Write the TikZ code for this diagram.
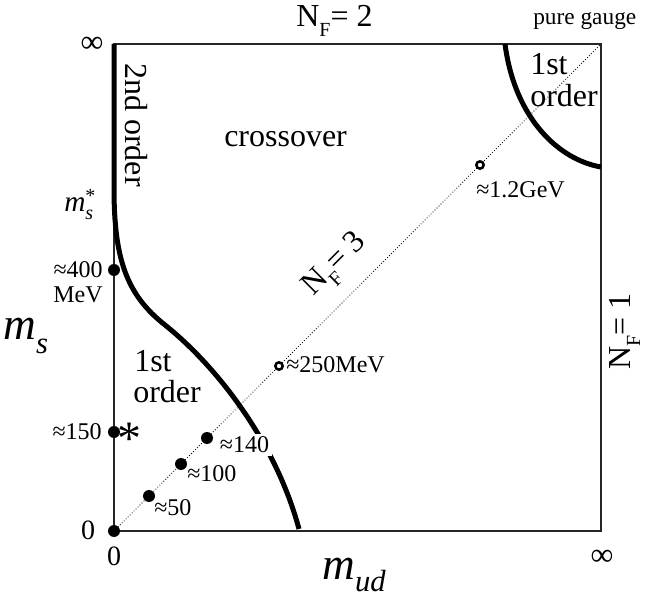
\documentclass[tikz,border=0pt]{standalone}
\usepackage{fontspec}
\setmainfont{Liberation Serif}
\newcommand{\myNF}[1]{N\raisebox{-7.5pt}{\fontsize{15}{15}\selectfont F}= #1}
\begin{document}
\begin{tikzpicture}[x=0.75pt,y=-0.75pt,
  frameline/.style={line width=1pt, draw=black!85},
  thickcurve/.style={line width=3.75pt},
  diagline/.style={line width=0.6pt, dash pattern=on 0.6pt off 1.5pt},
  fdot/.style={circle, fill=black, inner sep=0pt, minimum size=9pt},
  odot/.style={circle, draw=black, fill=white, line width=1.9pt, inner sep=0pt, minimum size=5.5pt},
  lbig/.style={inner sep=0pt, font=\fontsize{24}{30}\selectfont},
  lsmall/.style={inner sep=0pt, font=\fontsize{18}{22}\selectfont},
  lmid/.style={inner sep=0pt, font=\fontsize{21}{25}\selectfont},
  laxis/.style={inner sep=0pt, font=\fontsize{34}{40}\selectfont\itshape},
]
\useasboundingbox (0,0) rectangle (654,602);
\coordinate (BL) at (114,531);
\coordinate (BR) at (601,531);
\coordinate (TR) at (601,44);
\coordinate (TL) at (114,44);
\draw[frameline] (BL) rectangle (TR);
\draw[diagline] (BL) -- (TR);
\draw[thickcurve] (TL) -- (114,188) .. controls (114,260) and (127,295) .. (165,325) .. controls (215,365) and (275,440) .. (299,529);
\draw[thickcurve] (505,44) .. controls (515,120) and (560,160) .. (601,167);
% dots
\node[fdot] (p0) at (BL) {};
\node[fdot] (p50) at (149,496) {};
\node[fdot] (p100) at (181,464) {};
\node[fdot] (p140) at (207,438) {};
\node[fdot] (p400) at (114,270) {};
\node[fdot] (p150) at (114,432) {};
\node[odot] (p250) at (279,366) {};
\node[odot] (p1200) at (480,165) {};
% labels
\node[lbig, anchor=base west] (nf2) at (296,27) {\myNF{2}};
\node[inner sep=0pt, font=\fontsize{17.5}{20}\selectfont, anchor=base west] (pg) at (533,25) {pure gauge};
\node[lbig] (inftop) at (92,45) {∞};
\node[lbig] (infright) at (602,558) {∞};
\node[lmid] (zeroleft) at (88,530) {0};
\node[lmid] (zerobot) at (114,556) {0};
\node[laxis, anchor=base west] (ms) at (3,340) {m\raisebox{-10pt}{\fontsize{23}{23}\selectfont s}};
\node[laxis, anchor=base west] (mud) at (322,580) {m\raisebox{-9pt}{\fontsize{23}{23}\selectfont ud}};
\node[inner sep=0pt, font=\fontsize{22}{26}\selectfont\itshape, anchor=base west] (msstar) at (64,212) {m\rlap{\raisebox{7pt}{\fontsize{15}{15}\selectfont\upshape *}}\raisebox{-6pt}{\fontsize{15}{15}\selectfont s}};
\node[lbig, rotate=-90, anchor=base west] (second) at (125,63) {2nd order};
\node[lbig, anchor=base west] (cross) at (224,147) {crossover};
\node[lbig, anchor=base west] (fa1) at (530,75) {1st};
\node[lbig, anchor=base west] (fa2) at (530,107) {order};
\node[lbig, anchor=base west] (fb1) at (134,372) {1st};
\node[lbig, anchor=base west] (fb2) at (133,403) {order};
\node[lsmall, anchor=east] (l400) at (103,270) {≈400};
\node[lsmall] (lmev) at (78,295) {MeV};
\node[lsmall, anchor=east] (l150) at (102,432) {≈150};
\node[inner sep=0pt, font=\fontsize{36}{36}\selectfont] (star) at (129,439) {*};
\node[lsmall, anchor=west] (l50) at (154,508) {≈50};
\node[lsmall, anchor=west] (l100) at (187,474) {≈100};
\node[lsmall, anchor=west, fill=white, inner sep=2pt] (l140) at (217,445) {≈140};
\node[lsmall, anchor=west] (l250) at (286,365) {≈250MeV};
\node[lsmall, anchor=west] (l1200) at (476,190) {≈1.2GeV};
\node[lbig, rotate=45, anchor=base west] (nf3) at (313,297) {\myNF{3}};
\node[lbig, rotate=90, anchor=base west] (nf1) at (630,370) {\myNF{1}};
\end{tikzpicture}
\end{document}
